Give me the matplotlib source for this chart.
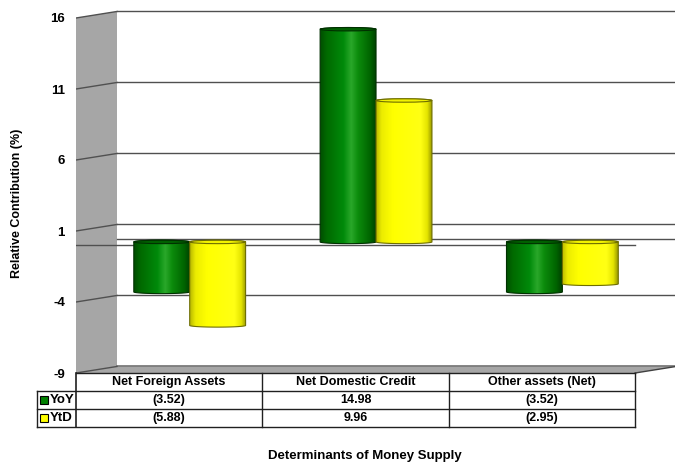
import numpy as np
import matplotlib
matplotlib.use("Agg")
import matplotlib.pyplot as plt
from matplotlib.path import Path
from matplotlib.patches import Polygon, PathPatch, Ellipse
from matplotlib.colors import to_rgb

plt.rcParams['font.family'] = ['Liberation Sans', 'DejaVu Sans']
plt.rcParams['font.weight'] = 'bold'

categories = ["Net Foreign Assets", "Net Domestic Credit", "Other assets (Net)"]
series_names = ["YoY", "YtD"]
yoy = [-3.52, 14.98, -3.52]
ytd = [-5.88, 9.96, -2.95]
y_ticks = [-9, -4, 1, 6, 11, 16]

series_colors = ["#008000", "#ffff00"]
green_grad = [(0.0, "#004e00"), (0.12, "#006a00"), (0.42, "#008a0a"),
              (0.56, "#2aa82a"), (0.68, "#0c8c0c"), (0.9, "#006400"), (1.0, "#004400")]
yellow_grad = [(0.0, "#bcbc00"), (0.1, "#ecec00"), (0.3, "#ffff00"),
               (0.8, "#ffff14"), (0.92, "#e4e400"), (1.0, "#9c9c00")]

# 3d depth offset of the back wall, in data units
dx, dy = 0.22, 0.46
xmax = 3.2142
ymin, ymax = -9, 16.6
bar_w = 0.3
cap_h = 0.12

fig = plt.figure(figsize=(6.75, 4.63), dpi=100)
W, H = 675, 463


def px_axes(x0, y0, x1, y1):
    return fig.add_axes([x0 / W, 1 - y1 / H, (x1 - x0) / W, (y1 - y0) / H])


ax = px_axes(76, 373 - (ymax - ymin) * 14.2, 675, 373)
ax.set_xlim(0, xmax)
ax.set_ylim(ymin, ymax)
for sp in ax.spines.values():
    sp.set_visible(False)
ax.set_xticks([])
ax.set_yticks(y_ticks)
ax.set_yticklabels([str(t) for t in y_ticks], fontsize=9.5, fontweight='bold')
ax.tick_params(axis='y', length=0, pad=8)

grid_c = "#505050"
wall_c = "#a6a6a6"

# left side wall and floor
ax.add_patch(Polygon([(0, -9), (0, 16), (dx, 16 + dy), (dx, -9 + dy)],
                     closed=True, fc=wall_c, ec="none", zorder=1))
ax.add_patch(Polygon([(0, -9), (3, -9), (3 + dx, -9 + dy), (dx, -9 + dy)],
                     closed=True, fc=wall_c, ec="none", zorder=1))
ax.plot([dx, 3 + dx], [-9 + dy, -9 + dy], color="#707070", lw=1.2, zorder=2)
ax.plot([3, 3 + dx], [-9, -9 + dy], color="#404040", lw=1, zorder=2, clip_on=False)

# gridlines on the side wall and back wall
for t in y_ticks:
    ax.plot([0, dx], [t, t + dy], color=grid_c, lw=1, zorder=2)
    if t > -9:
        ax.plot([dx, 3 + dx], [t + dy, t + dy], color=grid_c, lw=1, zorder=2, clip_on=False)

# zero plane edges
ax.plot([dx, 3 + dx], [dy, dy], color=grid_c, lw=1, zorder=2, clip_on=False)
ax.plot([0, 3], [0, 0], color=grid_c, lw=1, zorder=2)


def gradient_img(stops, n=120):
    pos = [s[0] for s in stops]
    cols = np.array([to_rgb(s[1]) for s in stops])
    xs = np.linspace(0, 1, n)
    img = np.stack([np.interp(xs, pos, cols[:, k]) for k in range(3)], axis=-1)
    return img[np.newaxis, :, :]


def cylinder(ax, left, width, v0, v1, stops, edge, cap_fc, z):
    top, bot = max(v0, v1), min(v0, v1)
    cx = left + width / 2
    a = width / 2
    th = np.linspace(np.pi, 2 * np.pi, 40)
    lower = np.column_stack([cx + a * np.cos(th), bot + cap_h * np.sin(th)])
    th2 = np.linspace(0, np.pi, 40)
    upper = np.column_stack([cx + a * np.cos(th2), top + cap_h * np.sin(th2)])
    verts = np.vstack([[[left, top]], lower, upper, [[left, top]]])
    path = Path(verts)
    im = ax.imshow(gradient_img(stops), extent=[left, left + width, bot - cap_h, top + cap_h],
                   aspect='auto', zorder=z, interpolation='bilinear')
    body = PathPatch(path, fc="none", ec=edge, lw=0.8, zorder=z + 0.1)
    ax.add_patch(body)
    im.set_clip_path(body)
    ax.add_patch(Ellipse((cx, top), width, 2 * cap_h, fc=cap_fc, ec=edge, lw=0.8, zorder=z + 0.2))


specs = [(yoy, green_grad, "#003000", "#006000"),
         (ytd, yellow_grad, "#6e6e00", "#f2f200")]
for s, (vals, stops, edge, cap_fc) in enumerate(specs):
    for i, v in enumerate(vals):
        left = i + 0.2 + s * bar_w + dx / 2
        cylinder(ax, left, bar_w, dy / 2, v + dy / 2, stops, edge, cap_fc, 5 + s)

# data table under the plot
tab = px_axes(76, 373, 675, 427)
tab.set_xlim(0, xmax)
tab.set_ylim(3, 0)
tab.axis('off')
key_x = (37 - 76) / 186.36
line_c = "#202020"
tab.plot([0, 3], [0, 0], color=line_c, lw=1, clip_on=False)
for r in (1, 2, 3):
    tab.plot([key_x, 3], [r, r], color=line_c, lw=1, clip_on=False)
tab.plot([key_x, key_x], [1, 3], color=line_c, lw=1, clip_on=False)
for c in range(4):
    tab.plot([c, c], [0, 3], color=line_c, lw=1.2 if c == 0 else 1, clip_on=False)

for i, name in enumerate(categories):
    tab.text(i + 0.5, 0.5, name, ha='center', va='center', fontsize=9, fontweight='bold')


def fmt(v):
    return "(%.2f)" % abs(v) if v < 0 else "%.2f" % v


for r, (name, vals, col) in enumerate(zip(series_names, [yoy, ytd], series_colors)):
    row = r + 1.5
    tab.plot([key_x + 0.04], [row], marker='s', ms=5.5, mfc=col, mec="#000000", mew=0.8,
             clip_on=False)
    tab.text(key_x + 0.068, row, name, ha='left', va='center', fontsize=9.5, fontweight='bold')
    for i, v in enumerate(vals):
        tab.text(i + 0.5, row, fmt(v), ha='center', va='center', fontsize=9, fontweight='bold')

fig.text(17 / W, 1 - 203 / H, "Relative Contribution (%)", rotation=90, ha='center',
         va='center', fontsize=9, fontweight='bold')
fig.text(365 / W, 3.5 / H, "Determinants of Money Supply", ha='center', va='baseline',
         fontsize=9.5, fontweight='bold')

fig.savefig("out.png", dpi=100)
